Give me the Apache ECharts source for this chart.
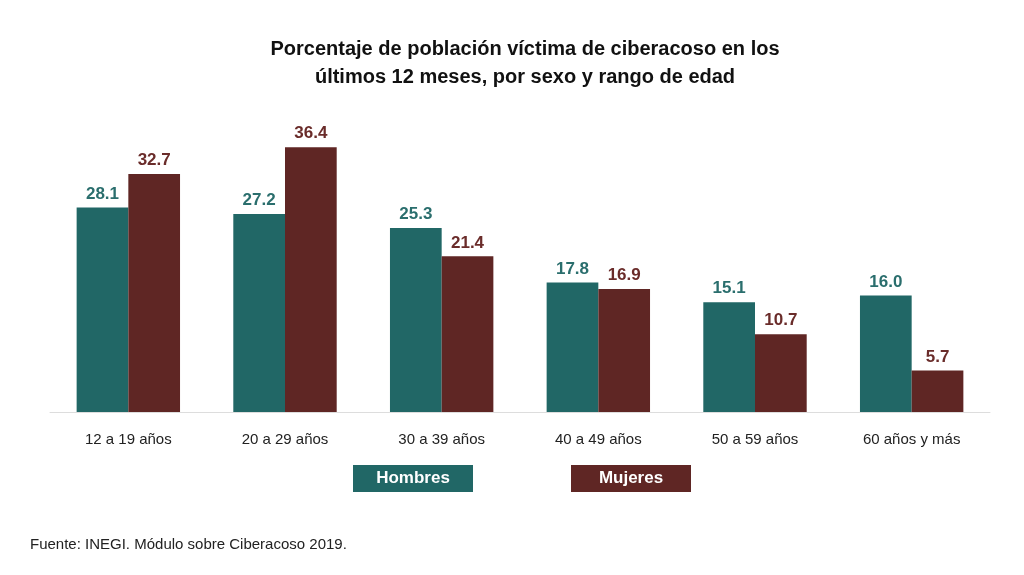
<!DOCTYPE html>
<html>
<head>
<meta charset="utf-8">
<script src="https://cdn.jsdelivr.net/npm/echarts@6/dist/echarts.min.js"></script>
<style>html,body{margin:0;background:#fff}#c{width:1024px;height:575px}</style>
</head>
<body>
<div id="c"></div>
<script>
var categories = ['12 a 19 años', '20 a 29 años', '30 a 39 años', '40 a 49 años', '50 a 59 años', '60 años y más'];
var hombres = [28.1, 27.2, 25.3, 17.8, 15.1, 16.0];
var mujeres = [32.7, 36.4, 21.4, 16.9, 10.7, 5.7];

var colH = '#216766', colM = '#5f2624';
var chart = echarts.init(document.getElementById('c'));
chart.setOption({
    title: {
        text: 'Porcentaje de población víctima de ciberacoso en los\núltimos 12 meses, por sexo y rango de edad',
        left: 520, top: 30, textAlign: 'center',
        textStyle: { fontFamily: 'Liberation Sans', fontSize: 20, fontWeight: 'bold', color: '#111', lineHeight: 28 }
    },
    grid: { left: 50, right: 34, top: 121, bottom: 163 },
    xAxis: {
        type: 'category', data: categories,
        axisTick: { show: false },
        axisLine: { lineStyle: { color: '#ddd' } },
        axisLabel: { fontFamily: 'Liberation Sans', fontSize: 15, color: '#222', margin: 20 }
    },
    yAxis: { type: 'value', min: 0, max: 40, show: false },
    series: [
        { name: 'Hombres', type: 'bar', data: hombres, barGap: '0%', barCategoryGap: '34%',
          itemStyle: { color: colH },
          label: { show: true, position: 'top', formatter: function (p) { return p.value.toFixed(1); },
                   fontFamily: 'Liberation Sans', fontSize: 17, fontWeight: 'bold', color: '#2a6e6d' } },
        { name: 'Mujeres', type: 'bar', data: mujeres,
          itemStyle: { color: colM },
          label: { show: true, position: 'top', formatter: function (p) { return p.value.toFixed(1); },
                   fontFamily: 'Liberation Sans', fontSize: 17, fontWeight: 'bold', color: '#6a2c2a' } }
    ],
    graphic: [
        { type: 'rect', left: 353, top: 465, shape: { width: 120, height: 27 }, style: { fill: colH },
          textContent: { style: { text: 'Hombres', fill: '#fff', font: 'bold 17px Liberation Sans' } },
          textConfig: { position: 'inside' } },
        { type: 'rect', left: 571, top: 465, shape: { width: 120, height: 27 }, style: { fill: colM },
          textContent: { style: { text: 'Mujeres', fill: '#fff', font: 'bold 17px Liberation Sans' } },
          textConfig: { position: 'inside' } },
        { type: 'text', left: 30, top: 537, style: { text: 'Fuente: INEGI. Módulo sobre Ciberacoso 2019.', fill: '#222', font: '15px Liberation Sans' } }
    ]
});
</script>
</body>
</html>
